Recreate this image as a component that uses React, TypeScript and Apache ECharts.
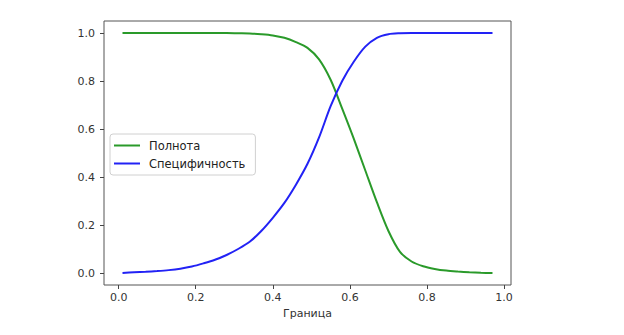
import React, { useEffect, useRef } from "react";
import * as echarts from "echarts";

const thresholds = [0.01, 0.04, 0.07, 0.10, 0.13, 0.16, 0.19, 0.22, 0.25, 0.28, 0.31, 0.34, 0.37, 0.40, 0.43, 0.46, 0.49, 0.52, 0.55, 0.58, 0.61, 0.64, 0.67, 0.70, 0.73, 0.76, 0.79, 0.82, 0.85, 0.88, 0.91, 0.94, 0.97];
const recall = [1.0, 1.0, 1.0, 1.0, 1.0, 1.0, 1.0, 1.0, 1.0, 1.0, 0.999, 0.998, 0.995, 0.99, 0.98, 0.962, 0.938, 0.89, 0.805, 0.685, 0.56, 0.427, 0.295, 0.175, 0.088, 0.048, 0.028, 0.017, 0.01, 0.006, 0.003, 0.001, 0.0];
const specificity = [0.0, 0.003, 0.005, 0.008, 0.012, 0.018, 0.027, 0.04, 0.055, 0.075, 0.1, 0.13, 0.175, 0.23, 0.292, 0.368, 0.455, 0.565, 0.695, 0.80, 0.88, 0.943, 0.98, 0.995, 0.999, 1.0, 1.0, 1.0, 1.0, 1.0, 1.0, 1.0, 1.0];
const seriesNames = ["Полнота", "Специфичность"];
const xTicks = [0, 0.2, 0.4, 0.6, 0.8, 1.0];
const yTicks = [0, 0.2, 0.4, 0.6, 0.8, 1.0];
const xAxisTitle = "Граница";

export default function App() {
  const ref = useRef<HTMLDivElement>(null);
  useEffect(() => {
    if (!ref.current) return;
    const chart = echarts.init(ref.current, null, { renderer: "svg" });
    const font = "'DejaVu Sans', sans-serif";
    chart.setOption({
      animation: false,
      backgroundColor: "#ffffff",
      textStyle: { fontFamily: font },
      grid: {
        left: 104,
        right: 113,
        top: 21,
        bottom: 50,
        show: true,
        borderColor: "#555555",
        borderWidth: 1,
        backgroundColor: "transparent",
      },
      legend: {
        left: 110,
        top: 134,
        orient: "vertical",
        data: seriesNames,
        icon: "path://M0 0H26V2H0Z",
        itemWidth: 26,
        itemHeight: 2,
        itemGap: 5,
        padding: [5, 10, 5, 4],
        backgroundColor: "rgba(255,255,255,0.85)",
        borderColor: "#d0d0d0",
        borderWidth: 1,
        borderRadius: 3,
        textStyle: { fontFamily: font, fontSize: 11.5, lineHeight: 13, color: "#222", padding: [0, 0, 0, 4] },
      },
      xAxis: {
        type: "value",
        min: -0.038,
        max: 1.018,
        name: xAxisTitle,
        nameLocation: "middle",
        nameGap: 23,
        nameTextStyle: { fontFamily: font, fontSize: 11, color: "#333" },
        axisLine: { show: false, onZero: false },
        axisTick: { show: true, customValues: xTicks, length: 4, lineStyle: { color: "#444" } },
        axisLabel: {
          customValues: xTicks,
          formatter: (v: number) => v.toFixed(1),
          fontFamily: font,
          fontSize: 11,
          color: "#333",
          margin: 7,
        },
        splitLine: { show: false },
      },
      yAxis: {
        type: "value",
        min: -0.05,
        max: 1.05,
        axisLine: { show: false, onZero: false },
        axisTick: { show: true, customValues: yTicks, length: 4, lineStyle: { color: "#444" } },
        axisLabel: {
          customValues: yTicks,
          formatter: (v: number) => v.toFixed(1),
          fontFamily: font,
          fontSize: 11,
          color: "#333",
          margin: 9,
        },
        splitLine: { show: false },
      },
      series: [
        {
          name: seriesNames[0],
          type: "line",
          data: thresholds.map((x, i) => [x, recall[i]]),
          symbol: "none",
          smooth: 0.3,
          lineStyle: { color: "#2a9a2a", width: 2 },
          itemStyle: { color: "#2a9a2a" },
        },
        {
          name: seriesNames[1],
          type: "line",
          data: thresholds.map((x, i) => [x, specificity[i]]),
          symbol: "none",
          smooth: 0.3,
          lineStyle: { color: "#2222f5", width: 2 },
          itemStyle: { color: "#2222f5" },
        },
      ],
    });
    return () => chart.dispose();
  }, []);
  return (
    <div
      ref={ref}
      style={{ position: "fixed", left: 0, top: 0, width: 624, height: 335 }}
    />
  );
}
